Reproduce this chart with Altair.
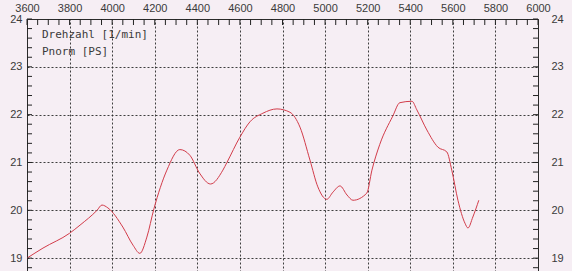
import altair as alt
import pandas as pd

rpm = [3600, 3675, 3800, 3849, 3929, 3952, 3980, 4050, 4098, 4130, 4163, 4196, 4257,
       4318, 4365, 4410, 4462, 4520, 4539, 4600, 4647, 4708, 4774, 4835, 4882, 4929,
       4966, 5008, 5037, 5070, 5103, 5131, 5196, 5220, 5257, 5318, 5351, 5408, 5431,
       5478, 5530, 5572, 5595, 5624, 5657, 5671, 5694, 5722]
ps = [19.0, 19.21, 19.52, 19.69, 20.0, 20.11, 20.05, 19.65, 19.27, 19.1, 19.44, 20.03, 20.84,
      21.27, 21.15, 20.78, 20.55, 20.84, 21.0, 21.53, 21.85, 22.03, 22.12, 22.05, 21.74, 21.05,
      20.49, 20.23, 20.38, 20.51, 20.32, 20.21, 20.36, 20.84, 21.38, 21.97, 22.25, 22.28, 22.1,
      21.68, 21.32, 21.22, 20.84, 20.21, 19.73, 19.63, 19.86, 20.21]

x_major = list(range(3600, 6001, 200))
x_minor = list(range(3600, 6001, 50))
y_major = [19, 20, 21, 22, 23, 24]
y_minor = [round(18.8 + 0.2 * i, 1) for i in range(27)]
legend_lines = ["Drehzahl [1/min]", "Pnorm [PS]"]

W, H = 511, 253
xs = alt.Scale(domain=[3600, 6000], nice=False, zero=False)
ys = alt.Scale(domain=[18.71, 24], nice=False, zero=False)

GRID = dict(gridDash=[2, 2], gridColor="#2a2a2a", gridWidth=1, gridOpacity=0.9)
LAB = dict(labelFont="Liberation Sans", labelFontSize=11, labelColor="#3a3a3a",
           labelFlush=False, title=None, ticks=False, domain=False, format="d")

x_axis = alt.Axis(orient="top", values=x_major, grid=True, labelPadding=6, **GRID, **LAB)

curve_df = pd.DataFrame({"rpm": rpm, "ps": ps})

curve = alt.Chart(curve_df).mark_line(
    color="#d23c4a", strokeWidth=1, interpolate="monotone", clip=True
).encode(
    x=alt.X("rpm:Q", scale=xs, axis=x_axis),
    y=alt.Y("ps:Q", scale=ys, axis=alt.Axis(
        orient="left", values=y_major, grid=True, labelPadding=5, **GRID, **LAB)),
)

right_axis = alt.Chart(pd.DataFrame({"rpm": [3600] * len(y_major), "ps": y_major})).mark_point(
    opacity=0
).encode(
    x=alt.X("rpm:Q", scale=xs, axis=x_axis),
    y=alt.Y("ps:Q", scale=ys, axis=alt.Axis(
        orient="right", values=y_major, grid=False, labelPadding=13, **LAB)),
)

top_ticks = alt.Chart(pd.DataFrame({"rpm": x_minor})).mark_rule(
    color="#222", strokeWidth=1
).encode(x=alt.X("rpm:Q", scale=xs, axis=x_axis), y=alt.value(0), y2=alt.value(6))

left_ticks = alt.Chart(pd.DataFrame({"ps": y_minor})).mark_rule(
    color="#222", strokeWidth=1
).encode(y=alt.Y("ps:Q", scale=ys, axis=None), x=alt.value(0), x2=alt.value(5))

right_ticks = alt.Chart(pd.DataFrame({"ps": y_minor})).mark_rule(
    color="#222", strokeWidth=1
).encode(y=alt.Y("ps:Q", scale=ys, axis=None), x=alt.value(W), x2=alt.value(W - 5))

legend1 = alt.Chart(pd.DataFrame({"txt": [legend_lines[0]]})).mark_text(
    font="DejaVu Sans Mono", fontSize=11, color="#3a3a3a", align="left", baseline="middle"
).encode(text="txt:N", x=alt.value(15), y=alt.value(16))

legend2 = alt.Chart(pd.DataFrame({"txt": [legend_lines[1]]})).mark_text(
    font="DejaVu Sans Mono", fontSize=11, color="#3a3a3a", align="left", baseline="middle"
).encode(text="txt:N", x=alt.value(15), y=alt.value(33))

chart = alt.layer(curve, right_axis, top_ticks, left_ticks, right_ticks, legend1, legend2).resolve_axis(
    y="independent"
).properties(
    width=W, height=H,
    autosize=alt.AutoSizeParams(type="none"),
    padding={"left": 27, "top": 19, "right": 34, "bottom": 0},
    background="#f6eef4",
).configure_view(stroke="#2a2a2a", strokeWidth=1)

chart.save("out.html", embed_options={"renderer": "svg", "actions": False})
